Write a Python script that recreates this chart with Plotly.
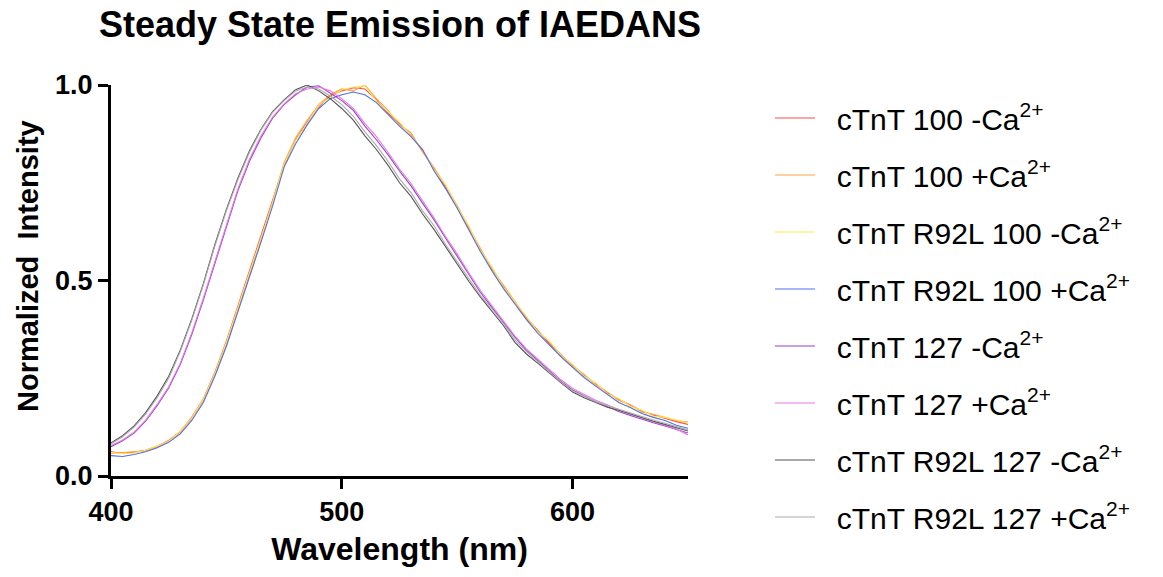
import plotly.graph_objects as go

wavelength = list(range(400, 651, 5))

series_names = [
    "cTnT 100 -Ca<sup>2+</sup>",
    "cTnT 100 +Ca<sup>2+</sup>",
    "cTnT R92L 100 -Ca<sup>2+</sup>",
    "cTnT R92L 100 +Ca<sup>2+</sup>",
    "cTnT 127 -Ca<sup>2+</sup>",
    "cTnT 127 +Ca<sup>2+</sup>",
    "cTnT R92L 127 -Ca<sup>2+</sup>",
    "cTnT R92L 127 +Ca<sup>2+</sup>",
]

series_colors = ["#FF4A4A", "#FFA04A", "#FFE84A", "#4F6EF2",
                 "#9A40C8", "#E57BE5", "#555555", "#ABABAB"]

ctnt100_minus = [0.062,0.058,0.061,0.066,0.076,0.091,0.114,0.150,0.197,0.265,0.345,0.435,0.520,0.610,0.700,0.795,0.860,0.905,0.945,0.972,0.985,0.993,0.990,0.962,0.928,0.902,0.872,0.832,0.786,0.738,0.690,0.637,0.580,0.532,0.485,0.444,0.405,0.372,0.338,0.310,0.283,0.257,0.236,0.213,0.196,0.180,0.166,0.156,0.147,0.139,0.132]
ctnt100_plus = [0.058,0.060,0.062,0.064,0.074,0.090,0.112,0.147,0.193,0.260,0.338,0.428,0.514,0.604,0.702,0.802,0.865,0.910,0.950,0.975,0.990,0.985,1.000,0.965,0.935,0.898,0.878,0.828,0.788,0.742,0.692,0.634,0.583,0.528,0.488,0.447,0.402,0.370,0.342,0.312,0.280,0.260,0.233,0.215,0.193,0.182,0.163,0.158,0.150,0.142,0.138]
r92l100_minus = [0.060,0.057,0.059,0.066,0.077,0.089,0.115,0.149,0.196,0.262,0.342,0.432,0.517,0.607,0.698,0.798,0.858,0.902,0.948,0.968,0.988,0.995,0.998,0.958,0.932,0.905,0.870,0.835,0.783,0.745,0.688,0.640,0.578,0.535,0.483,0.446,0.408,0.368,0.345,0.308,0.285,0.255,0.238,0.210,0.198,0.178,0.168,0.153,0.150,0.143,0.135]
r92l100_plus = [0.052,0.050,0.055,0.062,0.072,0.086,0.108,0.142,0.188,0.255,0.332,0.420,0.505,0.598,0.690,0.790,0.850,0.898,0.940,0.965,0.975,0.982,0.975,0.955,0.925,0.895,0.868,0.835,0.780,0.735,0.685,0.628,0.575,0.525,0.480,0.440,0.400,0.365,0.335,0.305,0.278,0.252,0.230,0.208,0.188,0.175,0.160,0.150,0.142,0.130,0.122]
ctnt127_minus = [0.075,0.090,0.110,0.140,0.180,0.225,0.285,0.362,0.450,0.545,0.640,0.730,0.805,0.865,0.915,0.950,0.975,0.995,0.998,0.980,0.960,0.935,0.895,0.860,0.822,0.780,0.742,0.698,0.655,0.608,0.562,0.515,0.470,0.432,0.395,0.355,0.322,0.295,0.268,0.242,0.220,0.205,0.190,0.178,0.165,0.155,0.145,0.136,0.128,0.118,0.110]
ctnt127_plus = [0.078,0.092,0.112,0.143,0.183,0.228,0.288,0.366,0.455,0.550,0.645,0.735,0.810,0.870,0.918,0.952,0.978,0.990,0.995,0.985,0.965,0.940,0.902,0.868,0.828,0.785,0.748,0.705,0.660,0.612,0.568,0.520,0.475,0.436,0.398,0.358,0.325,0.298,0.272,0.246,0.224,0.208,0.194,0.182,0.168,0.158,0.148,0.138,0.130,0.120,0.105]
r92l127_minus = [0.085,0.103,0.128,0.162,0.205,0.255,0.322,0.402,0.492,0.592,0.682,0.762,0.832,0.887,0.932,0.962,0.988,1.000,0.985,0.965,0.940,0.910,0.870,0.835,0.795,0.750,0.715,0.670,0.630,0.585,0.540,0.498,0.458,0.422,0.385,0.342,0.312,0.288,0.262,0.238,0.215,0.200,0.188,0.176,0.168,0.158,0.150,0.140,0.132,0.124,0.115]
r92l127_plus = [0.082,0.100,0.125,0.158,0.200,0.250,0.318,0.398,0.488,0.588,0.678,0.758,0.828,0.885,0.930,0.960,0.985,0.995,0.990,0.972,0.950,0.920,0.880,0.845,0.805,0.760,0.725,0.678,0.640,0.592,0.548,0.505,0.462,0.428,0.390,0.348,0.318,0.292,0.265,0.240,0.218,0.203,0.190,0.180,0.170,0.160,0.152,0.143,0.135,0.127,0.118]

all_series = [ctnt100_minus, ctnt100_plus, r92l100_minus, r92l100_plus,
              ctnt127_minus, ctnt127_plus, r92l127_minus, r92l127_plus]

x_ticks = [400, 500, 600]
y_ticks = [0.0, 0.5, 1.0]
y_tick_labels = ["0.0", "0.5", "1.0"]

FONT = "Liberation Sans, Arial, sans-serif"
W, H = 1163, 577
PL, PR, PT, PB = 111, 688, 85, 476   # plot area edges in pixels

fig = go.Figure()
for i, (name, color, vals) in enumerate(zip(series_names, series_colors, all_series)):
    fig.add_trace(go.Scatter(
        x=wavelength, y=vals, mode="lines", name="&nbsp;&nbsp;" + name,
        line=dict(color=color, width=1.1),
        legendgroup=f"g{i}",
    ))

fig.update_layout(
    width=W, height=H,
    margin=dict(l=PL, r=W - PR, t=PT, b=H - PB),
    paper_bgcolor="white", plot_bgcolor="white",
    title=dict(text="<b>Steady State Emission of IAEDANS</b>",
               x=400/W, xref="container", xanchor="center",
               y=1 - 24/H, yref="container", yanchor="middle",
               font=dict(family=FONT, size=36, color="black")),
    showlegend=True,
    legend=dict(x=770/W, xref="container", xanchor="left",
                y=1 - 92/H, yref="container", yanchor="top",
                font=dict(family=FONT, size=30, color="black"),
                tracegroupgap=15, itemwidth=40, maxheight=540,
                bgcolor="rgba(0,0,0,0)"),
    font=dict(family=FONT, color="black"),
    annotations=[dict(
        text="<b>Normalized&nbsp; Intensity</b>", textangle=-90,
        xref="paper", yref="paper",
        x=(28 - PL) / (PR - PL), y=(PB - 266) / (PB - PT),
        xanchor="center", yanchor="middle", showarrow=False,
        font=dict(family=FONT, size=29, color="black"),
    )],
)

fig.update_xaxes(
    range=[400, 650], tickvals=x_ticks, ticktext=[f"<b>{v}</b>" for v in x_ticks],
    showline=True, linecolor="black", linewidth=3, mirror=False,
    ticks="outside", ticklen=10, tickwidth=3, tickcolor="black",
    showgrid=False, zeroline=False,
    tickfont=dict(family=FONT, size=27, color="black"),
    title=dict(text="<b>Wavelength (nm)</b>", standoff=12,
               font=dict(family=FONT, size=32, color="black")),
)
fig.update_yaxes(
    range=[0, 1.0], tickvals=y_ticks, ticktext=[f"<b>{t}</b>" for t in y_tick_labels],
    showline=True, linecolor="black", linewidth=3, mirror=False,
    ticks="outside", ticklen=10, tickwidth=3, tickcolor="black",
    showgrid=False, zeroline=False,
    tickfont=dict(family=FONT, size=27, color="black"),
)

fig.write_html("out.html", config={"displayModeBar": False},
               post_script="document.body.style.margin='0px';")
